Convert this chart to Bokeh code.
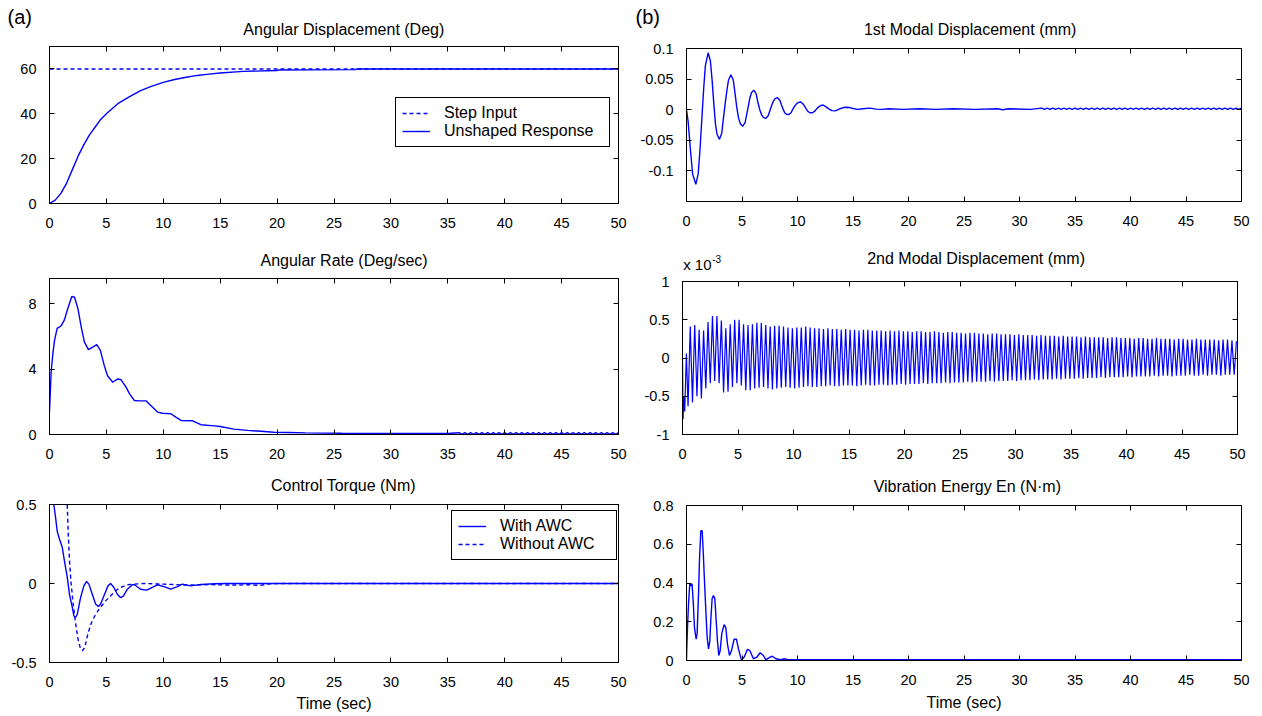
from bokeh.plotting import figure
from bokeh.models import Range1d, LinearAxis, FixedTicker, Legend, LegendItem, Label
from bokeh.layouts import row, column
from bokeh.embed import file_html
from bokeh.resources import INLINE

FONT = "Liberation Sans"
BLUE = "#0000ff"

# ---------------- data ----------------
x_ticks = [0, 5, 10, 15, 20, 25, 30, 35, 40, 45, 50]
x_tick_labels = ["0", "5", "10", "15", "20", "25", "30", "35", "40", "45", "50"]

# (a) Angular displacement (deg)
ang_t = [0, 0.5, 1, 1.5, 2, 2.5, 3, 3.5, 4, 4.5, 5, 6, 7, 8, 9, 10, 11, 12, 13, 14,
         15, 17, 20, 20.1, 23, 26.9, 27, 50]
ang_deg = [0, 1.5, 4.5, 9, 15, 21, 26, 30.5, 34, 37.5, 40, 44.5, 47.5, 50.3, 52.3, 54,
           55.3, 56.3, 57.1, 57.7, 58.2, 58.9, 59.3, 59.5, 59.6, 59.7, 60, 60]
step_t = [0, 50]
step_deg = [60, 60]
ang_yticks = [0, 20, 40, 60]
ang_ylabels = ["0", "20", "40", "60"]

# (a) Angular rate (deg/sec)
rate_t = [0, 0.15, 0.29, 0.44, 0.67, 1.02, 1.3, 1.6, 1.96, 2.2, 2.5, 2.78, 3.07, 3.42,
          3.8, 4.15, 4.47, 4.82, 5.1, 5.56, 6.0, 6.29, 6.73, 7.02, 7.46, 7.9, 8.48,
          8.9, 9.5, 9.94, 10.67, 11.1, 11.55, 12.57, 13.3, 14.5, 15.0, 16.2, 17.4,
          18.6, 19.7, 21.0, 22.5, 25.7, 30.0, 35.0]
rate_val = [1.4, 3.9, 4.9, 5.75, 6.5, 6.65, 7.0, 7.7, 8.45, 8.4, 7.7, 6.6, 5.65, 5.2,
            5.35, 5.5, 5.15, 4.2, 3.6, 3.2, 3.4, 3.35, 2.9, 2.5, 2.08, 2.06, 2.06,
            1.78, 1.37, 1.3, 1.27, 1.06, 0.86, 0.84, 0.6, 0.53, 0.49, 0.33, 0.25,
            0.2, 0.14, 0.12, 0.10, 0.08, 0.07, 0.06]
rate_tail_t = [36.0, 36.25, 36.5, 36.75, 37.0, 37.25, 37.5, 37.75, 38.0, 38.25,
               38.5, 38.75, 39.0, 39.25, 39.5, 39.75, 40.0, 40.25, 40.5, 40.75,
               41.0, 41.25, 41.5, 41.75, 42.0, 42.25, 42.5, 42.75, 43.0, 43.25,
               43.5, 43.75, 44.0, 44.25, 44.5, 44.75, 45.0, 45.25, 45.5, 45.75,
               46.0, 46.25, 46.5, 46.75, 47.0, 47.25, 47.5, 47.75, 48.0, 48.25,
               48.5, 48.75, 49.0, 49.25, 49.5, 49.75, 50.0]
rate_tail_val = [0.11, 0.01, 0.11, 0.01, 0.11, 0.01, 0.11, 0.01, 0.11, 0.01,
                 0.11, 0.01, 0.11, 0.01, 0.11, 0.01, 0.11, 0.01, 0.11, 0.01,
                 0.11, 0.01, 0.11, 0.01, 0.11, 0.01, 0.11, 0.01, 0.11, 0.01,
                 0.11, 0.01, 0.11, 0.01, 0.11, 0.01, 0.11, 0.01, 0.11, 0.01,
                 0.11, 0.01, 0.11, 0.01, 0.11, 0.01, 0.11, 0.01, 0.11, 0.01,
                 0.11, 0.01, 0.11, 0.01, 0.11, 0.01, 0.11]
rate_yticks = [0, 4, 8]
rate_ylabels = ["0", "4", "8"]

# (a) Control torque (Nm)
awc_t = [0, 0.2, 0.38, 0.53, 0.68, 0.88, 1.12, 1.32, 1.56, 1.76, 2.0, 2.14, 2.29, 2.44,
         2.73, 3.02, 3.26, 3.46, 3.76, 4.05, 4.29, 4.49, 4.84, 5.14, 5.37, 5.66, 5.96,
         6.25, 6.49, 6.84, 7.28, 7.48, 8.0, 8.54, 9.04, 9.48, 10.07, 10.65, 11.24,
         11.68, 12.4, 13.3, 14.5, 15.5, 50.0]
awc_val = [0.9, 0.66, 0.5, 0.42, 0.33, 0.28, 0.23, 0.14, 0.04, -0.07, -0.15, -0.205,
           -0.215, -0.195, -0.09, -0.015, 0.013, -0.004, -0.068, -0.13, -0.146, -0.13,
           -0.068, -0.015, 0.0, -0.025, -0.068, -0.09, -0.08, -0.036, -0.008, -0.008,
           -0.036, -0.042, -0.025, -0.008, -0.02, -0.036, -0.02, -0.004, -0.015,
           -0.006, -0.002, 0.0, 0.0]
noawc_t = [0, 1.0, 1.4, 1.56, 1.64, 1.76, 1.9, 2.08, 2.29, 2.5, 2.73, 2.9, 3.1, 3.37,
           3.67, 4.05, 4.49, 4.93, 5.37, 5.81, 6.25, 6.84, 7.43, 8.3, 10.0, 12.0, 14.0,
           16.0, 17.5, 18.5, 19.2, 20.0, 50.0]
noawc_val = [2.4, 1.6, 0.9, 0.5, 0.33, 0.14, 0.0, -0.13, -0.25, -0.35, -0.415, -0.425,
             -0.405, -0.32, -0.25, -0.195, -0.15, -0.11, -0.078, -0.046, -0.025, -0.008,
             -0.004, 0.0, -0.004, -0.01, -0.007, -0.01, -0.008, -0.012, -0.004, 0.0, 0.0]
torque_yticks = [-0.5, 0, 0.5]
torque_ylabels = ["-0.5", "0", "0.5"]

# (b) 1st modal displacement (mm)
mode1_t = [0.00, 0.15, 0.35, 0.55, 0.84, 1.05, 1.20, 1.40, 1.55, 1.70, 1.95, 2.15, 2.30,
           2.46, 2.62, 2.75, 2.97, 3.18, 3.32, 3.50, 3.65, 3.78, 4.00, 4.22, 4.35, 4.52,
           4.68, 4.85, 5.07, 5.28, 5.42, 5.57, 5.72, 5.86, 6.06, 6.28, 6.42, 6.60, 6.78,
           6.94, 7.15, 7.36, 7.50, 7.67, 7.83, 7.98, 8.20, 8.42, 8.55, 8.70, 8.85, 9.00,
           9.20, 9.42, 9.58, 9.75, 9.92, 10.10, 10.30, 10.52, 10.66, 10.80, 10.95, 11.15,
           11.35, 11.58, 11.80, 12.05, 12.30, 12.55, 12.85, 13.10, 13.40, 13.65, 13.90,
           14.15, 14.40, 14.70, 15.00, 15.40, 15.90, 16.50, 17.10, 17.60, 18.20, 19.5,
           21.0, 22.5, 24.0, 26.0, 28.0, 28.5, 29.0, 31.0]
mode1_mm = [0.000, -0.020, -0.065, -0.105, -0.122, -0.105, -0.070, -0.010, 0.035, 0.072,
            0.093, 0.080, 0.050, 0.010, -0.025, -0.040, -0.0485, -0.038, -0.015, 0.012,
            0.033, 0.048, 0.057, 0.048, 0.030, 0.005, -0.013, -0.023, -0.027, -0.021,
            -0.008, 0.006, 0.020, 0.028, 0.032, 0.026, 0.013, 0.000, -0.009, -0.013,
            -0.014, -0.010, -0.002, 0.007, 0.014, 0.018, 0.0196, 0.015, 0.008, 0.001,
            -0.005, -0.0075, -0.008, -0.005, 0.001, 0.006, 0.010, 0.012, 0.0125, 0.009,
            0.005, 0.001, -0.003, -0.005, -0.005, -0.002, 0.003, 0.0065, 0.0076, 0.005,
            0.001, -0.0015, -0.002, 0.000, 0.002, 0.0035, 0.004, 0.0035, 0.002, 0.0005,
            0.0015, 0.0025, 0.001, 0.0005, 0.0015, 0.0005, 0.0015, 0.0005, 0.0015,
            0.0005, 0.0015, 0.0, 0.0015, 0.0005]
mode1_tail_t = [32.0, 32.25, 32.5, 32.75, 33.0, 33.25, 33.5, 33.75, 34.0, 34.25,
                34.5, 34.75, 35.0, 35.25, 35.5, 35.75, 36.0, 36.25, 36.5, 36.75,
                37.0, 37.25, 37.5, 37.75, 38.0, 38.25, 38.5, 38.75, 39.0, 39.25,
                39.5, 39.75, 40.0, 40.25, 40.5, 40.75, 41.0, 41.25, 41.5, 41.75,
                42.0, 42.25, 42.5, 42.75, 43.0, 43.25, 43.5, 43.75, 44.0, 44.25,
                44.5, 44.75, 45.0, 45.25, 45.5, 45.75, 46.0, 46.25, 46.5, 46.75,
                47.0, 47.25, 47.5, 47.75, 48.0, 48.25, 48.5, 48.75, 49.0, 49.25,
                49.5, 49.75, 50.0]
mode1_tail_mm = [0.0025, 0.0005, 0.0025, 0.0005, 0.0025, 0.0005, 0.0025, 0.0005, 0.0025, 0.0005,
                 0.0025, 0.0005, 0.0025, 0.0005, 0.0025, 0.0005, 0.0025, 0.0005, 0.0025, 0.0005,
                 0.0025, 0.0005, 0.0025, 0.0005, 0.0025, 0.0005, 0.0025, 0.0005, 0.0025, 0.0005,
                 0.0025, 0.0005, 0.0025, 0.0005, 0.0025, 0.0005, 0.0025, 0.0005, 0.0025, 0.0005,
                 0.0025, 0.0005, 0.0025, 0.0005, 0.0025, 0.0005, 0.0025, 0.0005, 0.0025, 0.0005,
                 0.0025, 0.0005, 0.0025, 0.0005, 0.0025, 0.0005, 0.0025, 0.0005, 0.0025, 0.0005,
                 0.0025, 0.0005, 0.0025, 0.0005, 0.0025, 0.0005, 0.0025, 0.0005, 0.0025, 0.0005,
                 0.0025, 0.0005, 0.0025]
mode1_yticks = [-0.1, -0.05, 0, 0.05, 0.1]
mode1_ylabels = ["-0.1", "-0.05", "0", "0.05", "0.1"]

# (b) 2nd modal displacement (x 10^-3 mm), successive extremes
mode2_t = [0.0, 0.05, 0.12, 0.20, 0.35, 0.50,
           0.7, 0.9, 1.1, 1.3, 1.5, 1.7, 1.9, 2.1, 2.3, 2.5,
           2.7, 2.9, 3.1, 3.3, 3.5, 3.7, 3.9, 4.1, 4.3, 4.5,
           4.7, 4.9, 5.1, 5.3, 5.5, 5.7, 5.9, 6.1, 6.3, 6.5,
           6.7, 6.9, 7.1, 7.3, 7.5, 7.7, 7.9, 8.1, 8.3, 8.5,
           8.7, 8.9, 9.1, 9.3, 9.5, 9.7, 9.9, 10.1, 10.3, 10.5,
           10.7, 10.9, 11.1, 11.3, 11.5, 11.7, 11.9, 12.1, 12.3, 12.5,
           12.7, 12.9, 13.1, 13.3, 13.5, 13.7, 13.9, 14.1, 14.3, 14.5,
           14.7, 14.9, 15.1, 15.3, 15.5, 15.7, 15.9, 16.1, 16.3, 16.5,
           16.7, 16.9, 17.1, 17.3, 17.5, 17.7, 17.9, 18.1, 18.3, 18.5,
           18.7, 18.9, 19.1, 19.3, 19.5, 19.7, 19.9, 20.1, 20.3, 20.5,
           20.7, 20.9, 21.1, 21.3, 21.5, 21.7, 21.9, 22.1, 22.3, 22.5,
           22.7, 22.9, 23.1, 23.3, 23.5, 23.7, 23.9, 24.1, 24.3, 24.5,
           24.7, 24.9, 25.1, 25.3, 25.5, 25.7, 25.9, 26.1, 26.3, 26.5,
           26.7, 26.9, 27.1, 27.3, 27.5, 27.7, 27.9, 28.1, 28.3, 28.5,
           28.7, 28.9, 29.1, 29.3, 29.5, 29.7, 29.9, 30.1, 30.3, 30.5,
           30.7, 30.9, 31.1, 31.3, 31.5, 31.7, 31.9, 32.1, 32.3, 32.5,
           32.7, 32.9, 33.1, 33.3, 33.5, 33.7, 33.9, 34.1, 34.3, 34.5,
           34.7, 34.9, 35.1, 35.3, 35.5, 35.7, 35.9, 36.1, 36.3, 36.5,
           36.7, 36.9, 37.1, 37.3, 37.5, 37.7, 37.9, 38.1, 38.3, 38.5,
           38.7, 38.9, 39.1, 39.3, 39.5, 39.7, 39.9, 40.1, 40.3, 40.5,
           40.7, 40.9, 41.1, 41.3, 41.5, 41.7, 41.9, 42.1, 42.3, 42.5,
           42.7, 42.9, 43.1, 43.3, 43.5, 43.7, 43.9, 44.1, 44.3, 44.5,
           44.7, 44.9, 45.1, 45.3, 45.5, 45.7, 45.9, 46.1, 46.3, 46.5,
           46.7, 46.9, 47.1, 47.3, 47.5, 47.7, 47.9, 48.1, 48.3, 48.5,
           48.7, 48.9, 49.1, 49.3, 49.5, 49.7, 49.9]
mode2_e3 = [0.0, -0.80, -0.50, -0.70, 0.06, -0.63,
            0.41, -0.58, 0.43, -0.50, 0.37, -0.53, 0.36, -0.40, 0.47, -0.33,
            0.55, -0.30, 0.55, -0.33, 0.49, -0.45, 0.39, -0.44, 0.44, -0.38,
            0.50, -0.33, 0.50, -0.36, 0.44, -0.42, 0.43, -0.42, 0.44, -0.40,
            0.46, -0.39, 0.46, -0.38, 0.43, -0.40, 0.41, -0.41, 0.42, -0.40,
            0.42, -0.39, 0.41, -0.38, 0.40, -0.39, 0.39, -0.40, 0.40, -0.39,
            0.40, -0.38, 0.41, -0.37, 0.40, -0.38, 0.39, -0.38, 0.39, -0.37,
            0.38, -0.37, 0.39, -0.36, 0.38, -0.37, 0.38, -0.37, 0.37, -0.36,
            0.38, -0.36, 0.37, -0.36, 0.37, -0.37, 0.36, -0.36, 0.37, -0.35,
            0.37, -0.36, 0.36, -0.36, 0.36, -0.35, 0.36, -0.35, 0.35, -0.36,
            0.36, -0.35, 0.35, -0.35, 0.36, -0.34, 0.35, -0.35, 0.35, -0.34,
            0.34, -0.34, 0.35, -0.34, 0.35, -0.33, 0.34, -0.34, 0.34, -0.33,
            0.35, -0.33, 0.34, -0.33, 0.33, -0.32, 0.34, -0.33, 0.34, -0.32,
            0.33, -0.32, 0.33, -0.32, 0.32, -0.31, 0.33, -0.32, 0.33, -0.31,
            0.32, -0.31, 0.32, -0.31, 0.31, -0.30, 0.32, -0.31, 0.32, -0.30,
            0.31, -0.30, 0.31, -0.30, 0.31, -0.29, 0.30, -0.30, 0.31, -0.29,
            0.30, -0.29, 0.30, -0.29, 0.30, -0.28, 0.29, -0.29, 0.30, -0.28,
            0.29, -0.28, 0.29, -0.28, 0.29, -0.27, 0.28, -0.28, 0.29, -0.27,
            0.28, -0.27, 0.28, -0.27, 0.28, -0.26, 0.27, -0.27, 0.28, -0.26,
            0.27, -0.26, 0.27, -0.26, 0.27, -0.25, 0.27, -0.26, 0.26, -0.25,
            0.27, -0.25, 0.27, -0.25, 0.26, -0.25, 0.26, -0.24, 0.26, -0.25,
            0.25, -0.24, 0.26, -0.24, 0.26, -0.24, 0.25, -0.24, 0.25, -0.23,
            0.26, -0.24, 0.25, -0.23, 0.25, -0.23, 0.25, -0.24, 0.24, -0.23,
            0.25, -0.23, 0.25, -0.23, 0.24, -0.22, 0.24, -0.23, 0.25, -0.23,
            0.24, -0.22, 0.24, -0.23, 0.24, -0.22, 0.24, -0.22, 0.23, -0.23,
            0.24, -0.22, 0.24, -0.22, 0.23, -0.22, 0.22]
mode2_yticks = [-1, -0.5, 0, 0.5, 1]
mode2_ylabels = ["-1", "-0.5", "0", "0.5", "1"]

# (b) Vibration energy (N.m)
energy_t = [0, 0.02, 0.09, 0.18, 0.30, 0.40, 0.50, 0.60, 0.72, 0.87, 0.96, 1.08, 1.17,
            1.29, 1.41, 1.50, 1.62, 1.74, 1.86, 1.98, 2.10, 2.19, 2.31, 2.43, 2.55,
            2.67, 2.79, 2.91, 3.03, 3.18, 3.39, 3.54, 3.69, 3.87, 4.05, 4.29, 4.50,
            4.68, 4.95, 5.19, 5.49, 5.70, 6.03, 6.33, 6.63, 6.93, 7.14, 7.53, 7.74,
            8.04, 8.49, 8.80, 9.10, 10.0, 50.0]
energy_val = [0, 0.05, 0.17, 0.29, 0.40, 0.385, 0.395, 0.31, 0.17, 0.11, 0.14, 0.34,
              0.52, 0.67, 0.67, 0.57, 0.41, 0.26, 0.12, 0.06, 0.10, 0.21, 0.32, 0.335,
              0.32, 0.21, 0.10, 0.026, 0.05, 0.14, 0.185, 0.17, 0.086, 0.026, 0.05,
              0.11, 0.11, 0.06, 0.003, 0.017, 0.057, 0.052, 0.009, 0.017, 0.04, 0.026,
              0.003, 0.017, 0.022, 0.009, 0.004, 0.009, 0.004, 0.004, 0.004]
energy_yticks = [0, 0.2, 0.4, 0.6, 0.8]
energy_ylabels = ["0", "0.2", "0.4", "0.6", "0.8"]

titles = ["Angular Displacement (Deg)", "Angular Rate (Deg/sec)", "Control Torque (Nm)",
          "1st Modal Displacement (mm)", "2nd Modal Displacement (mm)",
          "Vibration Energy En (N\u00b7m)"]


# ---------------- helpers ----------------
def make_header(width, height, labels):
    h = figure(width=width, height=height, x_range=Range1d(0, 1), y_range=Range1d(0, 1),
               output_backend="svg", toolbar_location=None, min_border=0,
               x_axis_location=None, y_axis_location=None)
    h.frame_align = False
    h.outline_line_color = None
    h.grid.visible = False
    h.background_fill_color = "white"
    h.border_fill_color = "white"
    for text, x, y, size, align in labels:
        h.add_layout(Label(x=x, y=y, x_units="screen", y_units="screen", text=text,
                           text_font=FONT, text_font_size=size, text_color="black",
                           text_baseline="alphabetic", text_align=align))
    return h


def make_panel(width, height, borders, yrange, yticks, ylabels, xlabel=None,
               xlabel_standoff=4):
    left, right, top, bottom = borders
    p = figure(width=width, height=height,
               x_range=Range1d(0, 50), y_range=Range1d(*yrange),
               output_backend="svg", toolbar_location=None,
               min_border_left=left, min_border_right=right,
               min_border_top=top, min_border_bottom=bottom)
    p.frame_align = False
    p.add_layout(LinearAxis(), "above")
    p.add_layout(LinearAxis(), "right")
    p.grid.visible = False
    p.outline_line_color = "black"
    p.outline_line_width = 1
    p.outline_line_alpha = 1
    p.background_fill_color = "white"
    p.border_fill_color = "white"

    xt = dict(zip(x_ticks, x_tick_labels))
    yt = dict(zip(yticks, ylabels))
    axes = [(p.below[0], x_ticks, xt, True, 14), (p.above[0], x_ticks, xt, False, 0),
            (p.left[0], yticks, yt, True, 13), (p.right[0], yticks, yt, False, 0)]
    for ax, ticks, labels, show, standoff in axes:
        ax.ticker = FixedTicker(ticks=ticks, minor_ticks=[])
        ax.major_tick_in = 5
        ax.major_tick_out = 0
        ax.minor_tick_in = 0
        ax.minor_tick_out = 0
        ax.axis_line_color = "black"
        ax.major_tick_line_color = "black"
        ax.major_label_standoff = standoff
        if show:
            ax.major_label_overrides = labels
            ax.major_label_text_font = FONT
            ax.major_label_text_font_size = "14.5px"
            ax.major_label_text_color = "black"
        else:
            ax.major_label_overrides = {k: "" for k in ticks}
            ax.major_label_text_font_size = "0px"
    if xlabel:
        ax = p.below[0]
        ax.axis_label = xlabel
        ax.axis_label_text_font = FONT
        ax.axis_label_text_font_size = "16px"
        ax.axis_label_text_font_style = "normal"
        ax.axis_label_text_color = "black"
        ax.axis_label_standoff = xlabel_standoff
    return p


def style_legend(lg, label_width):
    lg.border_line_color = "black"
    lg.border_line_width = 1
    lg.border_line_alpha = 1
    lg.background_fill_color = "white"
    lg.background_fill_alpha = 1
    lg.label_text_font = FONT
    lg.label_text_font_size = "16px"
    lg.label_text_color = "black"
    lg.glyph_width = 28
    lg.glyph_height = 18
    lg.label_height = 18
    lg.label_width = label_width
    lg.label_standoff = 14
    lg.padding = 6
    lg.spacing = 0
    lg.margin = 0


LW = 1.4
DASH = "4 3"
T = "16px"

# ---------------- column (a) ----------------
h_a1 = make_header(630, 43, [("(a)", 7, 26.6, "20px", "left"),
                             (titles[0], 343.3, 14, T, "center")])
a1 = make_panel(630, 205, (49, 12, 3, 45), (0, 70), ang_yticks, ang_ylabels)
r_step = a1.line(step_t, step_deg, line_color=BLUE, line_width=LW, line_dash=DASH)
r_resp = a1.line(ang_t, ang_deg, line_color=BLUE, line_width=LW)
lg1 = Legend(items=[LegendItem(label="Step Input", renderers=[r_step]),
                    LegendItem(label="Unshaped Response", renderers=[r_resp])],
             location=(346, 56))
style_legend(lg1, 159)
a1.add_layout(lg1)

h_a2 = make_header(630, 27, [(titles[1], 343.6, 15.5, T, "center")])
a2 = make_panel(630, 199, (49, 12, 3, 40), (0, 9.55), rate_yticks, rate_ylabels)
a2.line(rate_t + rate_tail_t, rate_val + rate_tail_val, line_color=BLUE, line_width=LW)

h_a3 = make_header(630, 21, [(titles[2], 342.9, 10, T, "center")])
a3 = make_panel(630, 221, (49, 12, 9, 54), (-0.5, 0.5), torque_yticks, torque_ylabels,
                xlabel="Time (sec)", xlabel_standoff=5)
r_awc = a3.line(awc_t, awc_val, line_color=BLUE, line_width=LW)
r_noawc = a3.line(noawc_t, noawc_val, line_color=BLUE, line_width=LW, line_dash=DASH)
lg3 = Legend(items=[LegendItem(label="With AWC", renderers=[r_awc]),
                    LegendItem(label="Without AWC", renderers=[r_noawc])],
             location=(402, 102))
style_legend(lg3, 110)
a3.add_layout(lg3)

# ---------------- column (b) ----------------
h_b1 = make_header(632, 39, [("(b)", 5, 22.6, "20px", "left"),
                             (titles[3], 339.7, 10, T, "center")])
b1 = make_panel(632, 209, (56, 21, 9, 47), (-0.15, 0.1), mode1_yticks, mode1_ylabels)
b1.line(mode1_t + mode1_tail_t, mode1_mm + mode1_tail_mm, line_color=BLUE,
        line_width=LW)

h_b2 = make_header(632, 24, [(titles[4], 345.6, 14, T, "center"),
                             ("x 10", 52.7, 8.2, "15px", "left"),
                             ("-3", 81.7, 13.3, "10px", "left")])
b2 = make_panel(632, 202, (52, 25, 9, 40), (-1, 1), mode2_yticks, mode2_ylabels)
b2.line(mode2_t, mode2_e3, line_color=BLUE, line_width=1.2)

h_b3 = make_header(632, 22, [(titles[5], 336.8, 10.5, T, "center")])
b3 = make_panel(632, 220, (56, 21, 9, 56), (0, 0.8), energy_yticks, energy_ylabels,
                xlabel="Time (sec)", xlabel_standoff=6)
b3.line(energy_t, energy_val, line_color=BLUE, line_width=LW)

layout = row(column(h_a1, a1, h_a2, a2, h_a3, a3),
             column(h_b1, b1, h_b2, b2, h_b3, b3))
open("out.html", "w").write(file_html(layout, INLINE))
